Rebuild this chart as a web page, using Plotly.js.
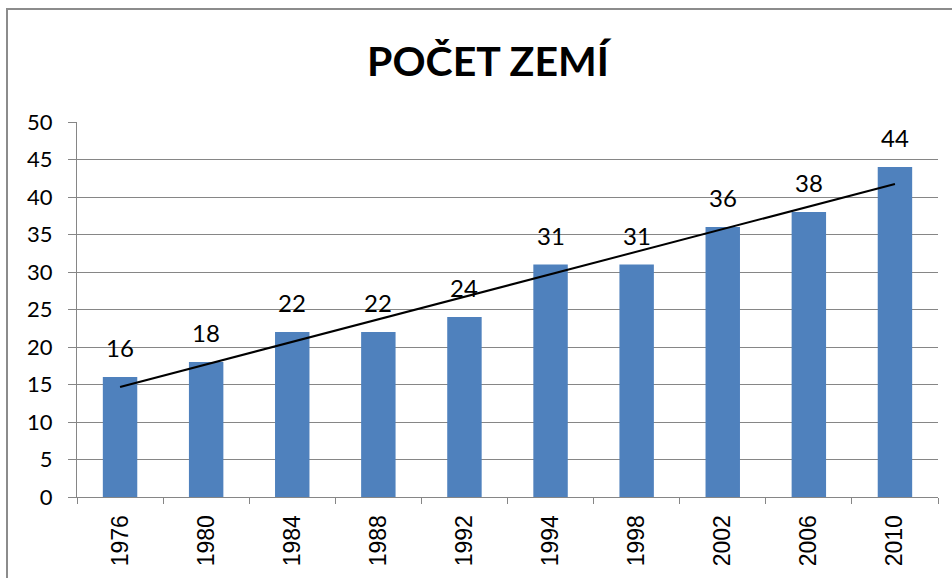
<!DOCTYPE html>
<html>
<head>
<meta charset="utf-8">
<script src="https://cdn.plot.ly/plotly-3.0.1.min.js"></script>
<style>
html,body{margin:0;padding:0;background:#fff;}
#chart{width:952px;height:578px;}
</style>
</head>
<body>
<div id="chart"></div>
<script>
const years = ["1976","1980","1984","1988","1992","1994","1998","2002","2006","2010"];
const countries = [16,18,22,22,24,31,31,36,38,44];
const titleText = "POČET ZEMÍ";
const yTicks = [0,5,10,15,20,25,30,35,40,45,50];

// Linear trendline (least squares over category index), as in the original chart
const n = countries.length;
const idx = countries.map((_, i) => i);
const mx = idx.reduce((a, b) => a + b, 0) / n;
const my = countries.reduce((a, b) => a + b, 0) / n;
let sxy = 0, sxx = 0;
for (let i = 0; i < n; i++) { sxy += (idx[i]-mx)*(countries[i]-my); sxx += (idx[i]-mx)*(idx[i]-mx); }
const slope = sxy / sxx, intercept = my - slope*mx;
const trend = idx.map(i => intercept + slope*i);

const bars = {
  type: 'bar', x: years, y: countries,
  marker: {color: '#4F81BD'},
  hoverinfo: 'x+y', showlegend: false
};
const trendLine = {
  type: 'scatter', mode: 'lines', x: years, y: trend,
  line: {color: '#000000', width: 2},
  hoverinfo: 'skip', showlegend: false
};

const annotations = years.map((yr, i) => ({
  x: i, y: countries[i], xref: 'x', yref: 'y',
  text: String(countries[i]), showarrow: false,
  yanchor: 'bottom', yshift: 13,
  font: {family: 'Lato, sans-serif', size: 24, color: '#000'}
}));

const L = 77, R = 938, T = 122, B = 497, W = 952, H = 578;
const px = v => (v - L) / (R - L);
const py = v => (B - v) / (B - T);

const layout = {
  width: W, height: H,
  margin: {l: L, r: W - R, t: T, b: H - B, pad: 0},
  paper_bgcolor: '#ffffff', plot_bgcolor: '#ffffff',
  title: {
    text: '<b>' + titleText + '</b>',
    font: {family: 'Lato, sans-serif', size: 41, color: '#000'},
    xref: 'container', x: 488 / W, xanchor: 'center',
    yref: 'container', y: 1 - 62 / H, yanchor: 'middle'
  },
  bargap: 0.6,
  xaxis: {
    type: 'category', range: [-0.5, years.length - 0.5], autorange: false,
    showline: true, linecolor: '#868686', linewidth: 1,
    ticks: 'outside', tickson: 'boundaries', ticklen: 6, tickcolor: '#868686', tickwidth: 1,
    tickangle: -90,
    tickfont: {family: 'Liberation Sans, Arial, sans-serif', size: 23, color: '#000'},
    ticklabelstandoff: 8,
    showgrid: false, zeroline: false, fixedrange: true
  },
  yaxis: {
    range: [0, 50], autorange: false, tickvals: yTicks, ticktext: yTicks.map(String),
    showline: true, linecolor: '#868686', linewidth: 1,
    ticks: 'outside', ticklen: 8, tickcolor: '#868686', tickwidth: 1,
    tickfont: {family: 'Lato, sans-serif', size: 22, color: '#000'},
    ticklabelstandoff: 11,
    showgrid: true, gridcolor: '#868686', gridwidth: 1,
    zeroline: false, fixedrange: true
  },
  annotations: annotations,
  shapes: [{
    type: 'rect', xref: 'paper', yref: 'paper', layer: 'below',
    x0: px(7), x1: px(980), y0: py(600), y1: py(9),
    line: {color: '#8c8c8c', width: 2}, fillcolor: 'rgba(0,0,0,0)'
  }]
};

Plotly.newPlot('chart', [bars, trendLine], layout, {displayModeBar: false, staticPlot: true});
</script>
</body>
</html>
